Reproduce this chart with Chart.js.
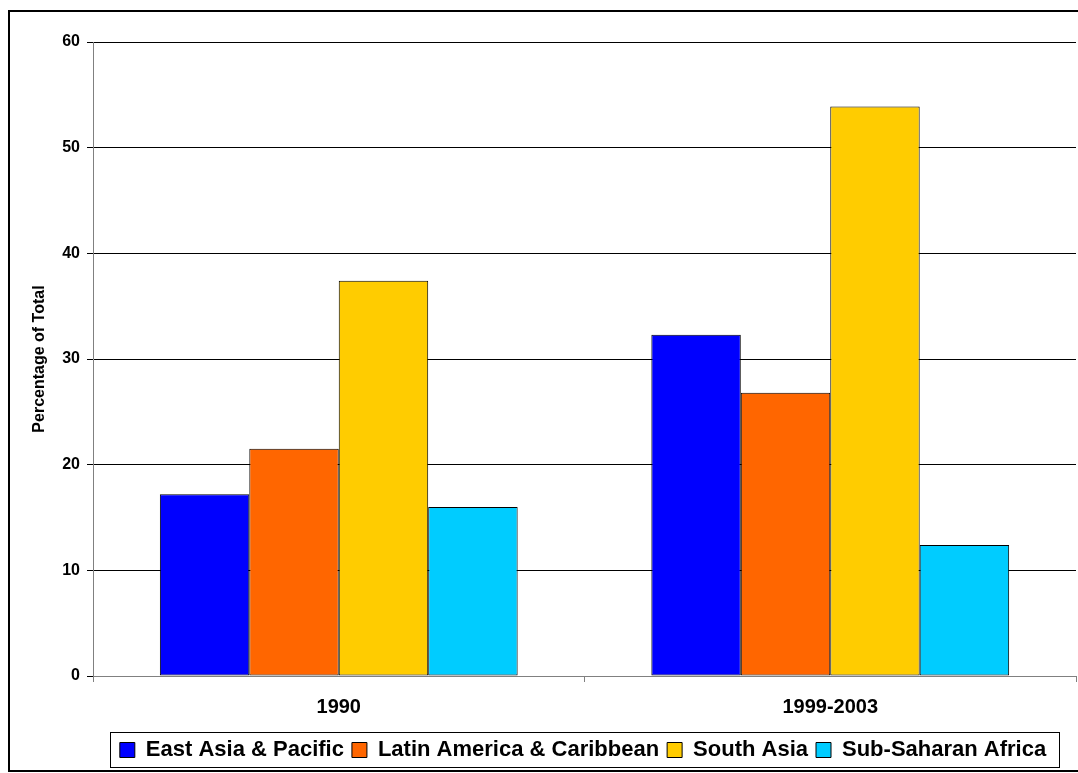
<!DOCTYPE html>
<html>
<head>
<meta charset="utf-8">
<script src="https://cdn.jsdelivr.net/npm/chart.js@4/dist/chart.umd.min.js"></script>
<style>
  html, body { margin: 0; padding: 0; background: #fff; }
  #wrap { width: 1078px; height: 773px; position: relative; }
</style>
</head>
<body>
<div id="wrap"><canvas id="chart"></canvas></div>
<script>
const categories = ["1990", "1999-2003"];
const eastAsia = [17.2, 32.3];
const latinAmerica = [21.5, 26.8];
const southAsia = [37.4, 53.9];
const subSaharan = [16.0, 12.4];
const yTicks = [0, 10, 20, 30, 40, 50, 60];

const FONT = "'Liberation Sans', Arial, sans-serif";
const LEGEND_PAD = 8;

// outer frame, legend nudged right, box around the legend
const framePlugin = {
  id: "frame",
  afterLayout(chart) {
    chart.legend.left += 30;
    chart.legend.right += 30;
  },
  afterDraw(chart) {
    const ctx = chart.ctx;
    ctx.save();
    ctx.strokeStyle = "#000";
    ctx.lineWidth = 2;
    ctx.strokeRect(9, 11, 1078, 760);
    const lg = chart.legend;
    if (lg && lg.lineWidths) {
      const w = lg.lineWidths[0];
      const start = (lg.left + LEGEND_PAD + lg.right - w) / 2;
      const end = start + w - LEGEND_PAD;
      const left = Math.round(start - 10);
      const right = Math.round(end + 13);
      const top = Math.round(lg.top + LEGEND_PAD - 7);
      ctx.lineWidth = 1;
      ctx.strokeRect(left + 0.5, top + 0.5, right - left, 35);
    }
    ctx.restore();
  },
};

function dataset(label, data, color) {
  return {
    label,
    data,
    backgroundColor: color,
    borderColor: "#000",
    borderWidth: 1,
    borderSkipped: false,
  };
}

new Chart(document.getElementById("chart"), {
  type: "bar",
  data: {
    labels: categories,
    datasets: [
      dataset("East Asia & Pacific", eastAsia, "#0000ff"),
      dataset("Latin America & Caribbean", latinAmerica, "#ff6600"),
      dataset("South Asia", southAsia, "#ffcc00"),
      dataset("Sub-Saharan Africa", subSaharan, "#00ccff"),
    ],
  },
  options: {
    responsive: true,
    maintainAspectRatio: false,
    animation: false,
    categoryPercentage: 0.728,
    barPercentage: 1,
    layout: { padding: { left: 30, right: 2, top: 42, bottom: 2 } },
    plugins: {
      tooltip: { enabled: false },
      legend: {
        position: "bottom",
        labels: {
          color: "#000",
          font: { family: FONT, size: 22, weight: "bold" },
          boxWidth: 15,
          boxHeight: 15,
          padding: LEGEND_PAD,
        },
      },
    },
    scales: {
      x: {
        grid: {
          drawOnChartArea: false,
          drawTicks: true,
          tickLength: 6,
          color: "#808080",
        },
        border: { color: "#808080" },
        ticks: {
          color: "#000",
          padding: 13,
          font: { family: FONT, size: 20, weight: "bold" },
        },
        afterFit(scale) {
          scale.height = 55;
        },
      },
      y: {
        min: 0,
        max: 60,
        afterBuildTicks(scale) {
          scale.ticks = yTicks.map((v) => ({ value: v }));
        },
        grid: {
          color: (c) => (c.tick && c.tick.value === 0 ? "#808080" : "#000"),
          tickLength: 6,
          tickColor: "#000",
        },
        border: { color: "#808080" },
        ticks: {
          color: "#000",
          padding: 7,
          font: { family: FONT, size: 16, weight: "bold" },
        },
        title: {
          display: true,
          text: "Percentage of Total",
          color: "#000",
          font: { family: FONT, size: 16, weight: "bold" },
          padding: 0,
        },
        afterFit(scale) {
          scale.width = 63;
        },
      },
    },
  },
  plugins: [framePlugin],
});
</script>
</body>
</html>
